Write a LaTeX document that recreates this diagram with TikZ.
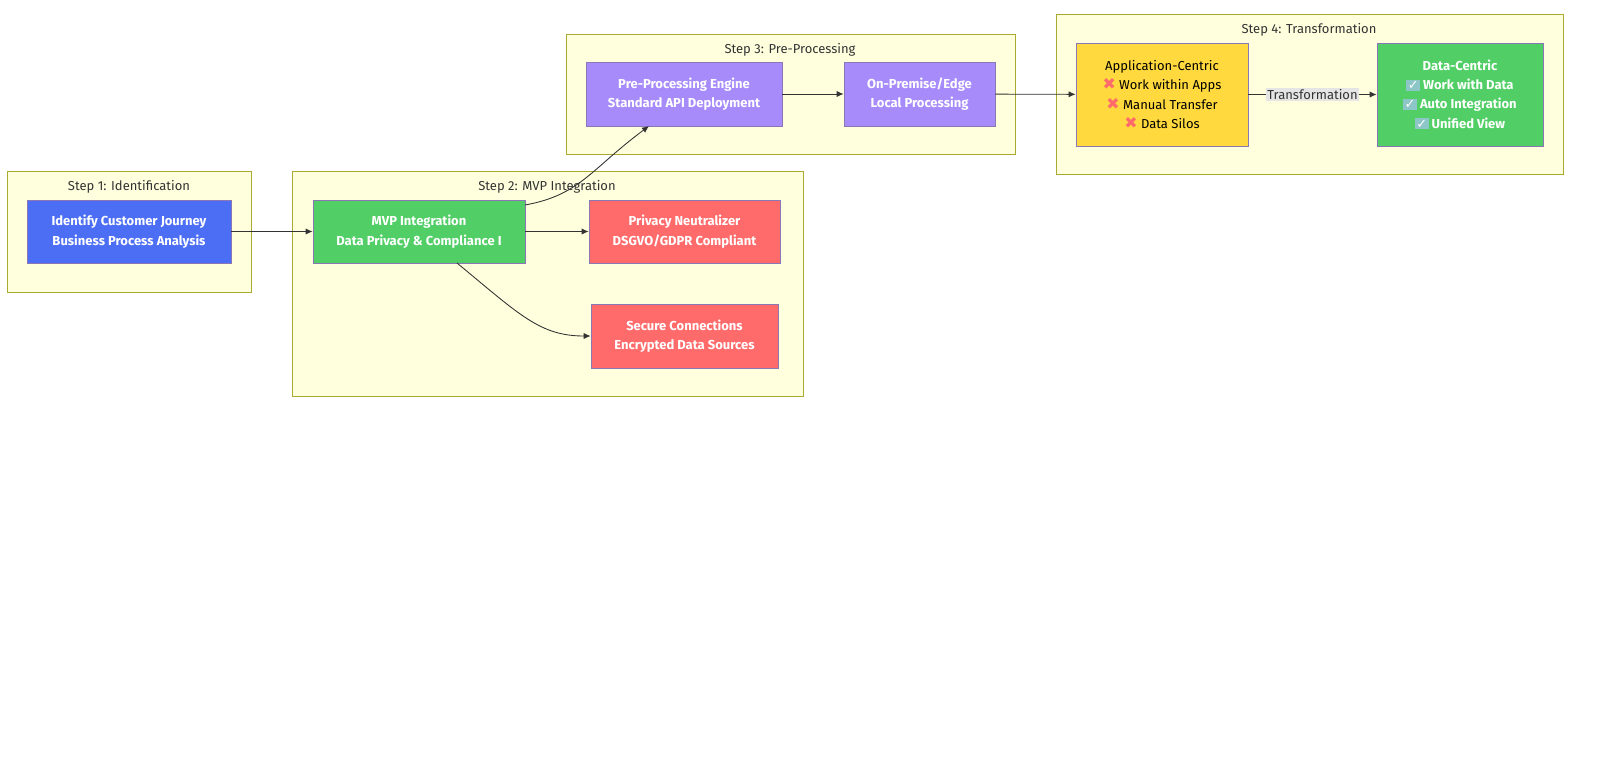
\documentclass[tikz,border=0pt]{standalone}
\usepackage{fontspec}
\setmainfont{Fira Sans}
\newfontfamily\symfont{DejaVu Sans}
\usetikzlibrary{arrows.meta,positioning}
\definecolor{clusterfill}{HTML}{FFFFDE}
\definecolor{clusterline}{HTML}{AAAA33}
\definecolor{idblue}{HTML}{4C6EF5}
\definecolor{mvpgreen}{HTML}{51CF66}
\definecolor{privred}{HTML}{FF6B6B}
\definecolor{prepurple}{HTML}{A78BFA}
\definecolor{appyellow}{HTML}{FFD93D}
\definecolor{nodeline}{HTML}{9370DB}
\definecolor{edgeline}{HTML}{333333}
\newcommand{\nope}{{\symfont\fontsize{9}{10}\selectfont\color{privred}\char"2716}}
\newcommand{\okay}{{\setlength{\fboxsep}{0.8pt}\colorbox{teal!45}{\symfont\color{white}\char"2713}}}

\begin{document}
\begin{tikzpicture}[x=0.02cm,y=-0.02cm,font=\fontsize{7.4}{11}\selectfont,
    cluster/.style={draw=clusterline,fill=clusterfill,line width=0.5pt},
    ctitle/.style={text=edgeline,anchor=north},
    box/.style={draw=nodeline!60!gray,line width=0.4pt,align=center,text=white,font=\fontsize{7.4}{11}\selectfont\bfseries},
    link/.style={draw=edgeline,line width=0.5pt,-{Latex[length=4pt,width=3.5pt]}}]

  % clusters
  \draw[cluster] (7,171) rectangle (251,292);
  \node[ctitle] (t1) at (129,174) {Step 1: Identification};
  \draw[cluster] (292,171) rectangle (803,396);
  \node[ctitle] (t2) at (547,174) {Step 2: MVP Integration};
  \draw[cluster] (566,34) rectangle (1015,154);
  \node[ctitle] (t3) at (790,37) {Step 3: Pre-Processing};
  \draw[cluster] (1056,14) rectangle (1563,174);
  \node[ctitle] (t4) at (1309,17) {Step 4: Transformation};

  % nodes
  \node[box,fill=idblue,minimum width=204*0.02cm,minimum height=63*0.02cm] (ident) at (129,231.5)
    {Identify Customer Journey\\Business Process Analysis};
  \node[box,fill=mvpgreen,minimum width=212*0.02cm,minimum height=63*0.02cm] (mvp) at (419,231.5)
    {MVP Integration\\Data Privacy \& Compliance I};
  \node[box,fill=privred,minimum width=191*0.02cm,minimum height=63*0.02cm] (privacy) at (684.5,231.5)
    {Privacy Neutralizer\\DSGVO/GDPR Compliant};
  \node[box,fill=privred,minimum width=187*0.02cm,minimum height=64*0.02cm] (secure) at (684.5,336)
    {Secure Connections\\Encrypted Data Sources};
  \node[box,fill=prepurple,minimum width=196*0.02cm,minimum height=64*0.02cm] (engine) at (684,94)
    {Pre-Processing Engine\\Standard API Deployment};
  \node[box,fill=prepurple,minimum width=151*0.02cm,minimum height=64*0.02cm] (edge) at (919.5,94)
    {On-Premise/Edge\\Local Processing};
  \node[box,fill=appyellow,text=black,font=\fontsize{7.4}{11}\selectfont,minimum width=172*0.02cm,minimum height=103*0.02cm] (appc) at (1162,94.5)
    {Application-Centric\\\nope\ Work within Apps\\\nope\ Manual Transfer\\\nope\ Data Silos};
  \node[box,fill=mvpgreen,minimum width=166*0.02cm,minimum height=103*0.02cm] (datac) at (1460,94.5)
    {Data-Centric\\\okay\ Work with Data\\\okay\ Auto Integration\\\okay\ Unified View};

  % connectors
  \draw[link] (ident) -- (mvp);
  \draw[link] (mvp) -- (privacy);
  \coordinate (mvpout) at (457,263);
  \coordinate (mvpup) at (525,205);
  \draw[link] (mvpout) .. controls (520,315) and (540,336) .. (secure.west);
  \draw[link] (mvpup) .. controls (580,195) and (590,170) .. (649,126);
  \draw[link] (engine) -- (edge);
  \draw[link] (edge) -- (appc);
  \draw[link] (appc) -- node[fill=gray!20,inner sep=1pt,text=edgeline,font=\fontsize{7.4}{8}\selectfont] (tlabel) {Transformation} (datac);

  \pgfresetboundingbox
  \path[use as bounding box] (0,0) rectangle (1600,765);
\end{tikzpicture}
\end{document}
